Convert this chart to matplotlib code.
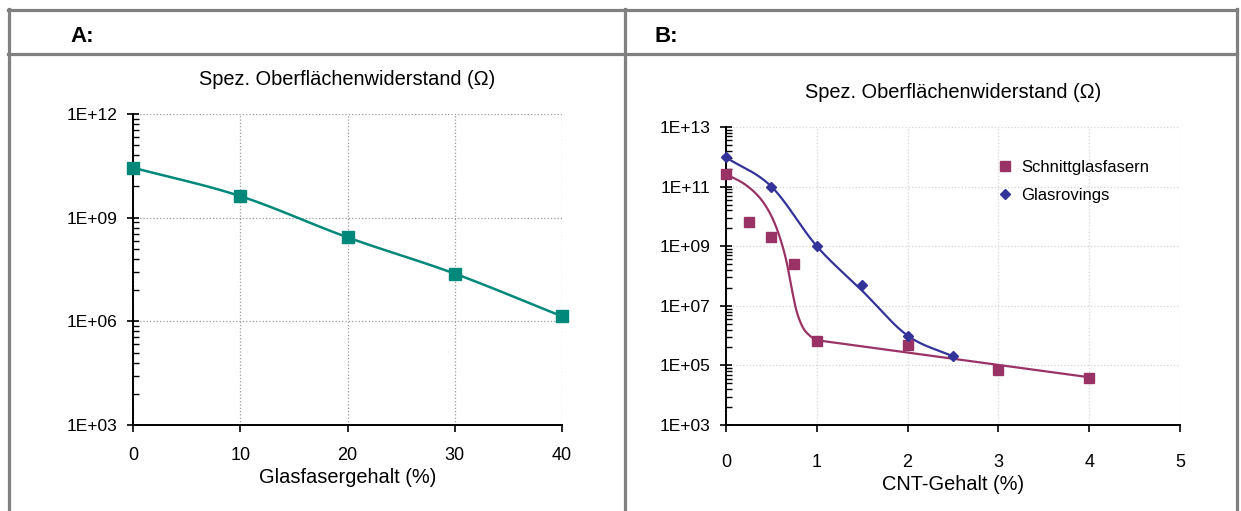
import numpy as np
import matplotlib
matplotlib.use("Agg")
import matplotlib.pyplot as plt
from matplotlib.lines import Line2D
from matplotlib.ticker import FixedLocator, FuncFormatter, NullFormatter

plt.rcParams['font.family'] = ['Liberation Sans', 'DejaVu Sans']

# --- Daten A: Glasfasergehalt ---
glas_gehalt = [0, 10, 20, 30, 40]
widerstand_a = [2.8e10, 4.2e9, 2.7e8, 2.4e7, 1.4e6]

# --- Daten B: CNT-Gehalt ---
cnt_schnitt = [0, 0.25, 0.5, 0.75, 1, 2, 3, 4]
widerstand_schnitt = [2.6e11, 6.5e9, 2.0e9, 2.5e8, 6.5e5, 5.0e5, 7.2e4, 3.8e4]
cnt_roving = [0, 0.5, 1, 1.5, 2, 2.5]
widerstand_roving = [9.5e11, 1.0e11, 1.0e9, 5.0e7, 1.0e6, 2.0e5]

# Trendkurven
kurve_schnitt_x = [0, 0.19, 0.34, 0.45, 0.54, 0.615, 0.67, 0.725, 0.78, 0.85, 0.93, 1.0]
kurve_schnitt_y = [2.6e11, 1.3e11, 5.4e10, 1.95e10, 5.5e9, 1.2e9, 2.7e8, 3.6e7, 6.2e6,
                   1.8e6, 9.5e5, 7.0e5]
gerade_schnitt_x = [1.0, 4.0]
gerade_schnitt_y = [7.0e5, 4.0e4]
kurve_roving_x = [0, 0.5, 1, 1.5, 2, 2.5]
kurve_roving_y = [9.5e11, 1.0e11, 1.0e9, 3.2e7, 1.0e6, 2.0e5]

W, H = 1241, 511
fig = plt.figure(figsize=(W / 100, H / 100), dpi=100)


def fx(px):
    return px / W


def fy(py):
    return 1 - py / H


def glatt(x, y, n=30):
    # Catmull-Rom in log-y, wie Excel "geglaettete Linie"
    x = np.asarray(x, float)
    ly = np.log10(np.asarray(y, float))
    P = np.column_stack([x, ly])
    P = np.vstack([P[0] - (P[1] - P[0]), P, P[-1] + (P[-1] - P[-2])])
    out = []
    for i in range(1, len(P) - 2):
        p0, p1, p2, p3 = P[i - 1], P[i], P[i + 1], P[i + 2]
        t = np.linspace(0, 1, n)[:, None]
        seg = 0.5 * ((2 * p1) + (-p0 + p2) * t + (2 * p0 - 5 * p1 + 4 * p2 - p3) * t ** 2
                     + (-p0 + 3 * p1 - 3 * p2 + p3) * t ** 3)
        out.append(seg)
    out = np.vstack(out)
    return out[:, 0], 10 ** out[:, 1]


def exp_fmt(v, pos):
    return '1E+%02d' % int(round(np.log10(v)))


def style_axes(ax, lo, hi, step, gridcol, xpad):
    ax.set_yscale('log')
    ax.set_ylim(10.0 ** lo, 10.0 ** hi)
    majors = [10.0 ** e for e in range(lo, hi + 1, step)]
    minors = []
    for e in range(lo, hi, step):
        for k in range(2, 10):
            minors.append(10.0 ** (e + step * np.log10(k)))
    ax.yaxis.set_major_locator(FixedLocator(majors))
    ax.yaxis.set_minor_locator(FixedLocator(minors))
    ax.yaxis.set_major_formatter(FuncFormatter(exp_fmt))
    ax.yaxis.set_minor_formatter(NullFormatter())
    for s in ['top', 'right']:
        ax.spines[s].set_visible(False)
    for s in ['left', 'bottom']:
        ax.spines[s].set_linewidth(1.4)
    ax.tick_params(axis='y', which='major', direction='inout', length=9, width=1.2, labelsize=12.5, pad=7)
    ax.tick_params(axis='y', which='minor', direction='in', length=4, width=1.0)
    ax.tick_params(axis='x', which='major', direction='out', length=5, width=1.2, labelsize=13, pad=xpad)
    ax.grid(True, which='major', color=gridcol, linestyle=':', linewidth=0.9)
    ax.set_axisbelow(True)


# --- Panel A ---
axA = fig.add_axes([fx(133), fy(425), fx(562) - fx(133), fy(114) - fy(425)])
style_axes(axA, 3, 12, 3, '#9a9a9a', 11)
axA.set_xlim(0, 40)
axA.set_xticks([0, 10, 20, 30, 40])
gx, gy = glatt(glas_gehalt, widerstand_a)
axA.plot(gx, gy, color='#00897a', lw=1.8, clip_on=False)
axA.plot(glas_gehalt, widerstand_a, 's', color='#00897a', ms=8.5, clip_on=False, zorder=5)
axA.set_xlabel('Glasfasergehalt (%)', fontsize=14.4, labelpad=3)
axA.set_title('Spez. Oberflächenwiderstand (Ω)', fontsize=14.4, pad=21)

# --- Panel B ---
axB = fig.add_axes([fx(726), fy(425), fx(1180) - fx(726), fy(127) - fy(425)])
style_axes(axB, 3, 13, 2, '#d4d4d4', 16)
axB.set_xlim(0, 5)
axB.set_xticks([0, 1, 2, 3, 4, 5])
sx, sy = glatt(kurve_schnitt_x, kurve_schnitt_y, n=20)
axB.plot(sx, sy, color='#993366', lw=1.6, clip_on=False)
axB.plot(gerade_schnitt_x, gerade_schnitt_y, color='#993366', lw=1.6, clip_on=False)
rx, ry = glatt(kurve_roving_x, kurve_roving_y)
axB.plot(rx, ry, color='#333399', lw=1.6, clip_on=False)
axB.plot(cnt_schnitt, widerstand_schnitt, 's', color='#993366', ms=7.5, ls='none',
         clip_on=False, zorder=5, label='Schnittglasfasern')
axB.plot(cnt_roving, widerstand_roving, 'D', color='#333399', ms=5.5, ls='none',
         clip_on=False, zorder=6, label='Glasrovings')
axB.legend(loc='upper left', bbox_to_anchor=(0.585, 0.912), frameon=False, fontsize=12,
           handlelength=0.8, handletextpad=0.6, labelspacing=0.8, borderaxespad=0)
axB.set_xlabel('CNT-Gehalt (%)', fontsize=14.4, labelpad=3)
axB.set_title('Spez. Oberflächenwiderstand (Ω)', fontsize=14.4, pad=21)

# --- Tabellenrahmen ---
rahmen = '#808080'
lw = 2.3
for (x0, y0, x1, y1) in [(8, 10, 1237, 10), (8, 54, 1237, 54),
                         (9, 9, 9, 511), (625, 9, 625, 511), (1237, 9, 1237, 511)]:
    fig.add_artist(Line2D([fx(x0), fx(x1)], [fy(y0), fy(y1)], color=rahmen, lw=lw,
                          transform=fig.transFigure))

fig.text(fx(70), fy(37), 'A:', fontsize=16, fontweight='bold', va='center', ha='left')
fig.text(fx(655), fy(37), 'B:', fontsize=16, fontweight='bold', va='center', ha='left')

fig.savefig('out.png', dpi=100)
